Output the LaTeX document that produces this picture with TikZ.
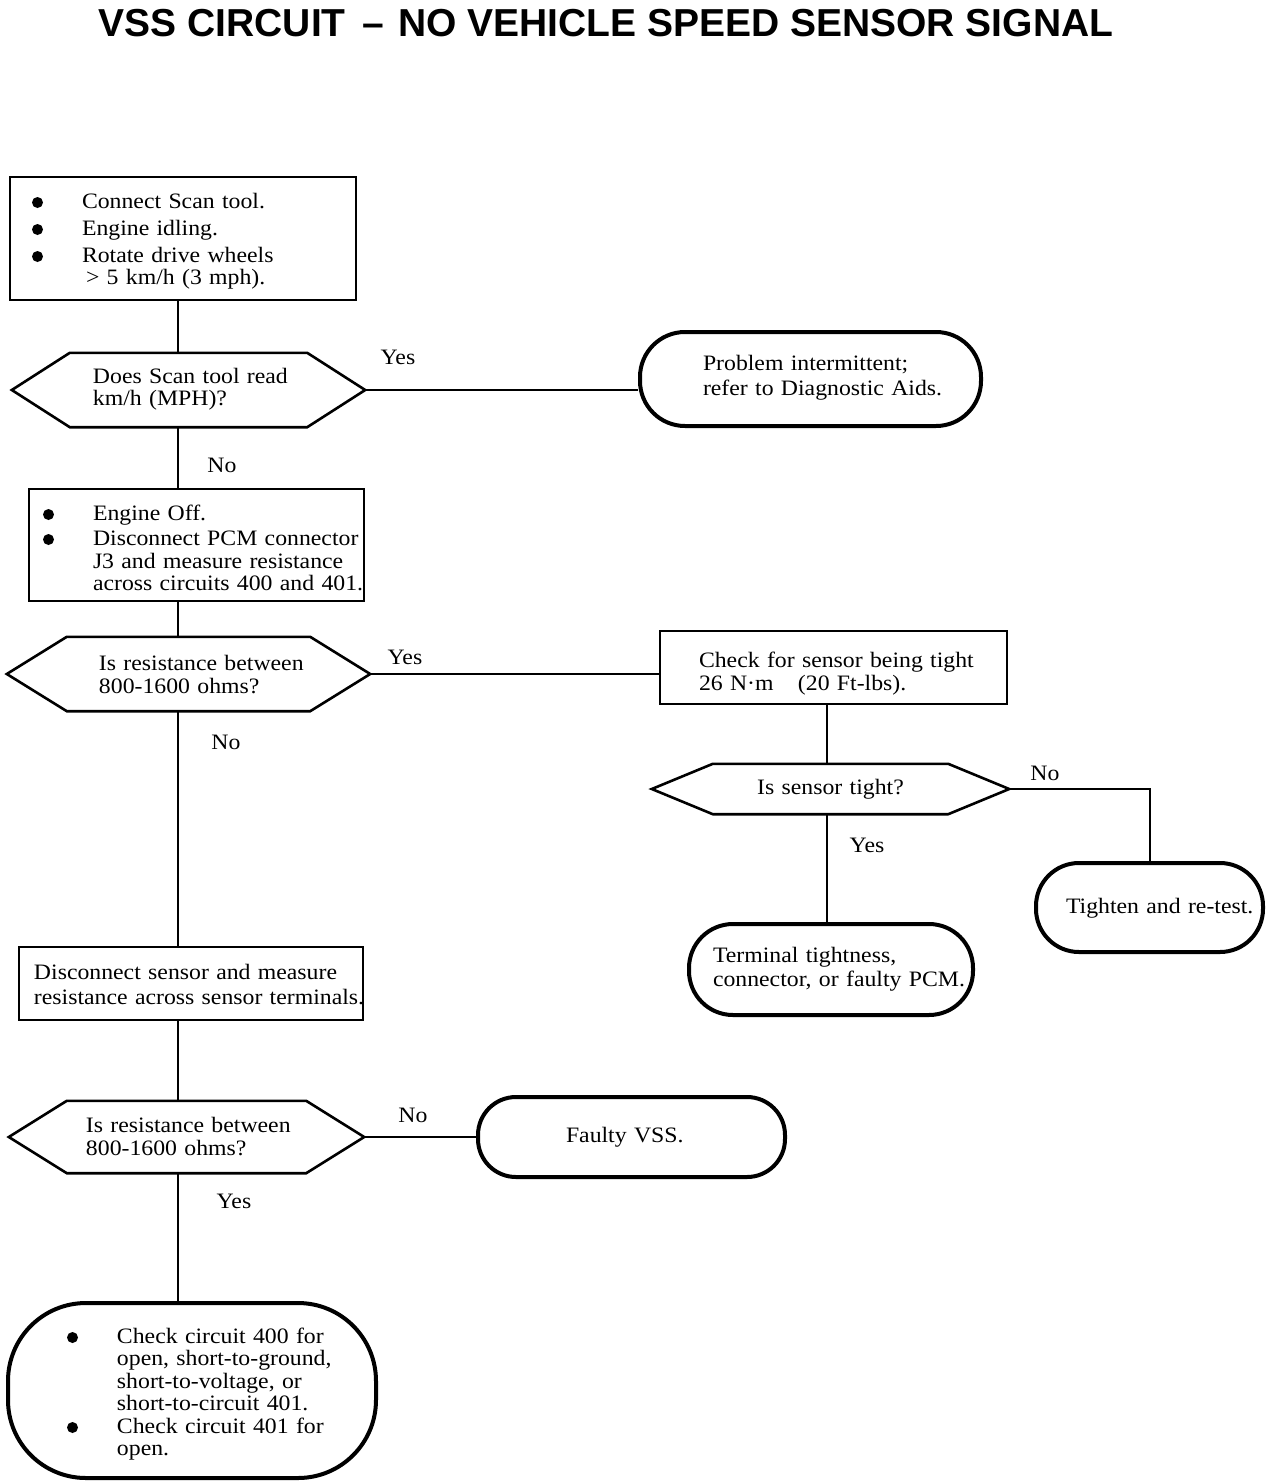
\documentclass[tikz,border=0pt]{standalone}
\usepackage{fontspec}
\setmainfont{Liberation Serif}[FakeStretch=1.08, WordSpace=0.8]
\newfontfamily\titlefont{Liberation Sans}
\usetikzlibrary{calc}
\newcommand\bul[2]{\hspace*{#1pt}\makebox[#2pt][l]{\tikz[baseline={(0pt,-5.5pt)}]\fill (5.5pt,0pt) circle[radius=5.5pt];}}
\newcommand\Ln[2]{\hspace*{#1pt}\mbox{#2}}
\begin{document}
\begin{tikzpicture}[x=1pt,y=-1pt,
  txt/.style={font=\fontsize{22}{22.5}\selectfont, inner sep=0pt},
  procbox/.style={txt, draw, line width=2pt, rectangle, align=left, text height=16pt},
  termbox/.style={txt, draw, line width=4pt, rectangle, align=left, text height=16pt},
  hexbox/.style={txt, rectangle, align=left, text height=16pt},
  hexline/.style={line width=2.6pt, line join=miter},
  conn/.style={line width=2pt},
  lbl/.style={txt}]
\useasboundingbox (0,0) rectangle (1280,1484);
\fill[white] (0,0) rectangle (1280,1484);

\node[font=\titlefont\bfseries\fontsize{39}{39}\selectfont, anchor=base, inner sep=0pt] (title) at (606,36)
  {VSS CIRCUIT\hspace{6pt} – \hspace{3pt}NO VEHICLE SPEED SENSOR SIGNAL};

\coordinate (sp) at (178,0);
\coordinate (sp2) at (827,0);

% boxes
\node[procbox, minimum width=346pt, minimum height=123pt, text width=346pt, text depth=77pt] (b1) at (183,238.5)
  {\bul{22}{50}\mbox{Connect Scan tool.}\\[4.5pt]
   \bul{22}{50}\mbox{Engine idling.}\\[4.5pt]
   \bul{22}{50}\mbox{Rotate drive wheels}\\
   \Ln{76}{> 5 km/h (3 mph).}};

\node[hexbox, minimum width=353pt, minimum height=74pt, text width=353pt, text depth=30pt] (q1) at (188.5,390)
  {\Ln{81}{Does Scan tool read}\\[-0.5pt] \Ln{81}{km/h (MPH)?}};

\node[termbox, rounded corners=45pt, minimum width=341pt, minimum height=94pt, text width=341pt, text depth=34pt] (t1) at (810.5,379)
  {\Ln{63}{Problem intermittent;}\\[2.5pt] \Ln{63}{refer to Diagnostic Aids.}};

\node[procbox, minimum width=335pt, minimum height=112pt, text width=335pt, text depth=66pt] (b2) at (196.5,545)
  {\bul{14}{50}\mbox{Engine Off.}\\[2.5pt]
   \bul{14}{50}\mbox{Disconnect PCM connector}\\[0.5pt]
   \Ln{64}{J3 and measure resistance}\\[-0.5pt]
   \Ln{64}{across circuits 400 and 401.}};

\node[hexbox, minimum width=363pt, minimum height=74pt, text width=363pt, text depth=24pt] (q2) at (188.5,674)
  {\Ln{92}{Is resistance between}\\[0.5pt] \Ln{92}{800-1600 ohms?}};

\node[procbox, minimum width=347pt, minimum height=73pt, text width=347pt, text depth=17pt] (b3) at (833.5,667.5)
  {\Ln{39}{Check for sensor being tight}\\[0.5pt] \Ln{39}{26 N·m\hspace{17pt} (20 Ft-lbs).}};

\node[hexbox, minimum width=357pt, minimum height=50pt, text width=357pt, align=center, text depth=5pt] (q3) at (830.5,789)
  {Is sensor tight?};

\node[termbox, rounded corners=43pt, minimum width=227pt, minimum height=89pt, text width=227pt, text depth=5pt] (t3) at (1149.5,907.5)
  {\Ln{30}{Tighten and re-test.}};

\node[termbox, rounded corners=44pt, minimum width=284pt, minimum height=91pt, text width=284pt, text depth=31pt] (t2) at (831,969.5)
  {\Ln{24}{Terminal tightness,}\\[1.5pt] \Ln{24}{connector, or faulty PCM.}};

\node[procbox, minimum width=344pt, minimum height=73pt, text width=344pt, text depth=25pt] (b4) at (191,983.5)
  {\Ln{15}{Disconnect sensor and measure}\\[2.5pt] \Ln{15}{resistance across sensor terminals.}};

\node[hexbox, minimum width=355pt, minimum height=72pt, text width=355pt, text depth=26pt] (q4) at (186.5,1137)
  {\Ln{77}{Is resistance between}\\[0.5pt] \Ln{77}{800-1600 ohms?}};

\node[termbox, rounded corners=38pt, minimum width=307pt, minimum height=80pt, text width=307pt, text depth=5pt] (t4) at (631.5,1137)
  {\Ln{88}{Faulty VSS.}};

\node[termbox, rounded corners=78pt, minimum width=368pt, minimum height=175pt, text width=368pt, text depth=111pt] (t5) at (192,1390.5)
  {\bul{59}{50}\mbox{Check circuit 400 for}\\
   \Ln{109}{open, short-to-ground,}\\
   \Ln{109}{short-to-voltage, or}\\
   \Ln{109}{short-to-circuit 401.}\\
   \bul{59}{50}\mbox{Check circuit 401 for}\\
   \Ln{109}{open.}};

% hexagon outlines
\foreach \n/\d in {q1/58,q2/60,q3/61,q4/58}
  \draw[hexline] (\n.west) -- ($(\n.north west)+(\d,0)$) -- ($(\n.north east)+(-\d,0)$)
    -- (\n.east) -- ($(\n.south east)+(-\d,0)$) -- ($(\n.south west)+(\d,0)$) -- cycle;

% connectors
\draw[conn] (b1.south -| sp) -- (q1.north -| sp);
\draw[conn] (q1.east) -- (q1.east -| t1.west);
\draw[conn] (q1.south -| sp) -- (b2.north -| sp);
\draw[conn] (b2.south -| sp) -- (q2.north -| sp);
\draw[conn] (q2.east) -- (q2.east -| b3.west);
\draw[conn] (b3.south -| sp2) -- (q3.north -| sp2);
\draw[conn] (q3.east) -| (t3.north);
\draw[conn] (q3.south -| sp2) -- (t2.north -| sp2);
\draw[conn] (q2.south -| sp) -- (b4.north -| sp);
\draw[conn] (b4.south -| sp) -- (q4.north -| sp);
\draw[conn] (q4.east) -- (t4.west);
\draw[conn] (q4.south -| sp) -- (t5.north -| sp);

% labels
\node[lbl] (l1) at (398,357) {Yes};
\node[lbl] (l2) at (222,465) {No};
\node[lbl] (l3) at (405,657) {Yes};
\node[lbl] (l4) at (226,742) {No};
\node[lbl] (l5) at (1045,773) {No};
\node[lbl] (l6) at (867,845) {Yes};
\node[lbl] (l7) at (413,1115) {No};
\node[lbl] (l8) at (234,1201) {Yes};
\end{tikzpicture}
\end{document}
